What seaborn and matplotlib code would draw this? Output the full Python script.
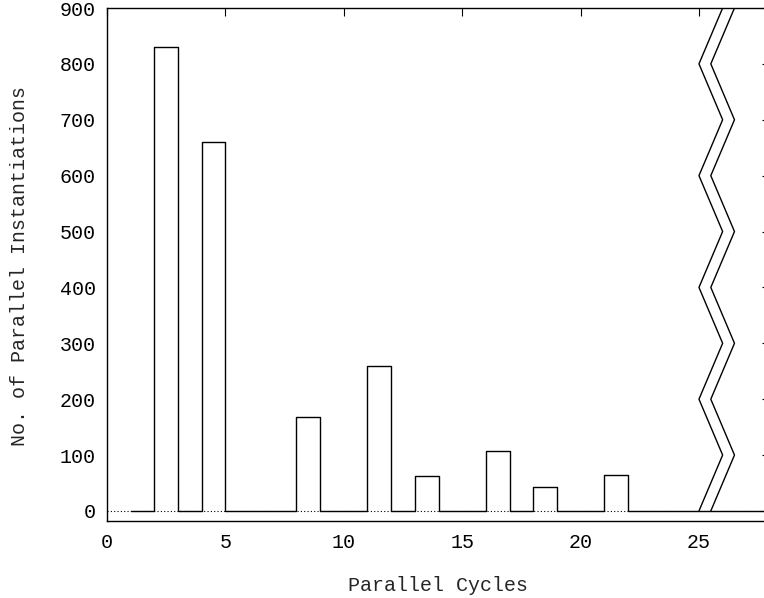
import matplotlib
matplotlib.use("Agg")
import matplotlib.pyplot as plt
import seaborn as sns
import pandas as pd

# Data (gnuplot-style step histogram)
cycles = list(range(1, 29))
counts = [0, 830, 0, 660, 0, 0, 0, 168, 0, 0, 260, 0, 63, 0, 0,
          107, 0, 42, 0, 0, 65, 0, 0, 0, 0, 0, 0, 0]
x_ticks = [0, 5, 10, 15, 20, 25]
y_ticks = [0, 100, 200, 300, 400, 500, 600, 700, 800, 900]
x_label = "Parallel Cycles"
y_label = "No. of Parallel Instantiations"

# Axis-break marker (decoration): zigzag levels
break_levels = [0, 100, 200, 300, 400, 500, 600, 700, 800, 900]
break_left = 25.0
break_width = 1.0
break_gap = 0.5

FS = 14.4

sns.set_style("white")
plt.rcParams["font.family"] = ["Liberation Mono", "DejaVu Sans Mono"]
plt.rcParams["font.size"] = FS

df = pd.DataFrame({"cycle": cycles, "count": counts})

fig = plt.figure(figsize=(7.64, 5.98), dpi=100)
ax = fig.add_axes([107 / 764, 77 / 598, 663 / 764, 513 / 598])

ax.axhline(0, color="black", lw=0.8, ls=(0, (1, 2)), zorder=1)
sns.lineplot(data=df, x="cycle", y="count", drawstyle="steps-post",
             color="black", lw=1.0, ax=ax, zorder=2)

zig = [break_left + (i % 2) * break_width for i in range(len(break_levels))]
ax.plot(zig, break_levels, color="black", lw=1.0, zorder=3)
ax.plot([z + break_gap for z in zig], break_levels, color="black", lw=1.0, zorder=3)

ax.set_xlim(0, 28)
ax.set_ylim(-18, 900)
ax.set_xticks(x_ticks)
ax.set_yticks(y_ticks)
ax.tick_params(direction="in", length=6, width=0.8, top=True, right=True,
               labelsize=FS, colors="black")
ax.tick_params(axis="x", pad=9)
ax.tick_params(axis="y", pad=8)
for s in ax.spines.values():
    s.set_color("black")
    s.set_linewidth(1.0)

ax.set_xlabel(x_label, fontsize=FS)
ax.set_ylabel(y_label, fontsize=FS)
ax.xaxis.set_label_coords(0.5, (521 - 576) / 513)
ax.yaxis.set_label_coords((29 - 107) / 663, (521 - 266) / 513)

fig.savefig("out.png", dpi=100)
